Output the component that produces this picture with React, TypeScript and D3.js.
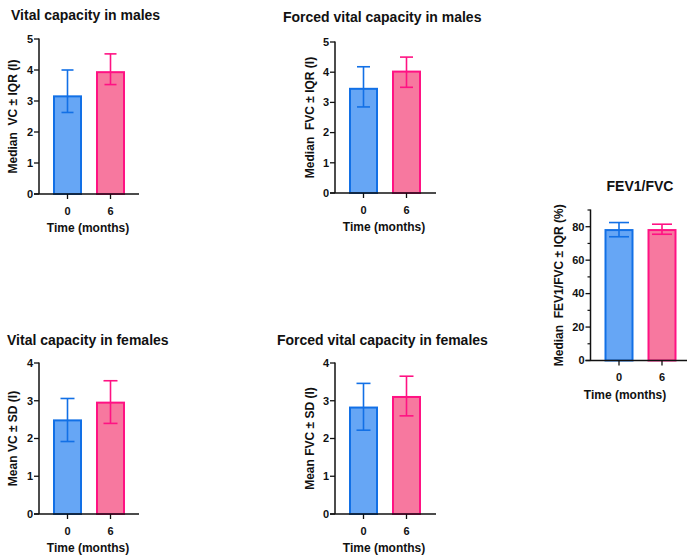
import React from "react";
import * as d3 from "d3";

const timeCategories = ["0", "6"];

const vcMalesValue = [3.15, 3.93];
const vcMalesLow = [2.63, 3.53];
const vcMalesHigh = [4.0, 4.52];

const fvcMalesValue = [3.45, 4.02];
const fvcMalesLow = [2.85, 3.5];
const fvcMalesHigh = [4.18, 4.5];

const vcFemalesValue = [2.48, 2.95];
const vcFemalesLow = [1.92, 2.4];
const vcFemalesHigh = [3.06, 3.53];

const fvcFemalesValue = [2.82, 3.1];
const fvcFemalesLow = [2.22, 2.6];
const fvcFemalesHigh = [3.46, 3.65];

const fevValue = [78, 78];
const fevLow = [74, 75.5];
const fevHigh = [82.5, 81.5];

const ticks0to5 = [0, 1, 2, 3, 4, 5];
const ticks0to4 = [0, 1, 2, 3, 4];
const ticksFev = [0, 20, 40, 60, 80];
const minorTicksFev = [10, 30, 50, 70, 90];

const FILLS = ["#66a6f5", "#f7789f"];
const STROKES = ["#1270e6", "#ff1283"];
const FONT = "'Liberation Sans', Arial, sans-serif";

type PanelProps = {
  title: string;
  titleX: number;
  titleY: number;
  titleAnchor?: string;
  yLabel: string;
  axisX: number;
  axisEnd: number;
  yTop: number;
  yBottom: number;
  yMax: number;
  ticks: number[];
  minorTicks?: number[];
  values: number[];
  low: number[];
  high: number[];
  capW: number;
  yLabelDx: number;
  xLabelX: number;
};

function Panel(p: PanelProps) {
  const y = d3.scaleLinear().domain([0, p.yMax]).range([p.yBottom, p.yTop]);
  const x = d3
    .scalePoint<string>()
    .domain(timeCategories)
    .range([p.axisX + 28.5, p.axisX + 71.5]);
  const barW = 27;
  return (
    <g fontFamily={FONT} fontWeight="bold" fill="#111">
      <text x={p.titleX} y={p.titleY} fontSize={14} textAnchor={p.titleAnchor || "start"}>
        {p.title}
      </text>
      {timeCategories.map((c, i) => (
        <rect
          key={"b" + c}
          x={(x(c) as number) - barW / 2}
          y={y(p.values[i])}
          width={barW}
          height={y(0) - y(p.values[i])}
          fill={FILLS[i]}
          stroke={STROKES[i]}
          strokeWidth={2}
        />
      ))}
      {timeCategories.map((c, i) => {
        const cx = x(c) as number;
        return (
          <g key={"e" + c} stroke={STROKES[i]} strokeWidth={1.6}>
            <line x1={cx} x2={cx} y1={y(p.low[i])} y2={y(p.high[i])} />
            <line x1={cx - p.capW / 2} x2={cx + p.capW / 2} y1={y(p.low[i])} y2={y(p.low[i])} />
            <line x1={cx - p.capW / 2} x2={cx + p.capW / 2} y1={y(p.high[i])} y2={y(p.high[i])} />
          </g>
        );
      })}
      {/* y axis */}
      <line x1={p.axisX} x2={p.axisX} y1={p.yTop - 0.5} y2={p.yBottom} stroke="#111" strokeWidth={1.5} />
      {p.ticks.map((t) => (
        <g key={"t" + t}>
          <line x1={p.axisX - 5} x2={p.axisX} y1={y(t)} y2={y(t)} stroke="#111" strokeWidth={1.3} />
          <text x={p.axisX - 6} y={y(t)} dy="0.35em" fontSize={11} textAnchor="end">
            {t}
          </text>
        </g>
      ))}
      {(p.minorTicks || []).map((t) => (
        <line key={"m" + t} x1={p.axisX - 3} x2={p.axisX} y1={y(t)} y2={y(t)} stroke="#111" strokeWidth={1.2} />
      ))}
      {/* x axis */}
      <line x1={p.axisX - 5} x2={p.axisEnd} y1={p.yBottom} y2={p.yBottom} stroke="#111" strokeWidth={1.5} />
      {timeCategories.map((c) => (
        <g key={"x" + c}>
          <line x1={x(c)} x2={x(c)} y1={p.yBottom} y2={p.yBottom + 5} stroke="#111" strokeWidth={1.3} />
          <text x={x(c)} y={p.yBottom + 20.5} fontSize={11} textAnchor="middle">
            {c}
          </text>
        </g>
      ))}
      <text x={p.xLabelX} y={p.yBottom + 38} fontSize={12} textAnchor="middle">
        Time (months)
      </text>
      <text
        transform={`translate(${p.axisX + p.yLabelDx},${(p.yTop + p.yBottom) / 2}) rotate(-90)`}
        fontSize={12}
        textAnchor="middle"
        dy="0.35em"
        style={{ whiteSpace: "pre" }}
      >
        {p.yLabel}
      </text>
    </g>
  );
}

export default function App() {
  return (
    <svg width={687} height={555} style={{ position: "absolute", left: 0, top: 0, background: "#fff" }}>
      <rect width={687} height={555} fill="#fff" />
      <Panel
        title="Vital capacity in males"
        titleX={11}
        titleY={20}
        yLabel={"Median  VC \u00b1 IQR (l)"}
        axisX={39}
        axisEnd={139}
        yTop={39}
        yBottom={194}
        yMax={5}
        ticks={ticks0to5}
        values={vcMalesValue}
        low={vcMalesLow}
        high={vcMalesHigh}
        capW={12}
        yLabelDx={-26}
        xLabelX={88}
      />
      <Panel
        title="Forced vital capacity in males"
        titleX={283}
        titleY={22}
        yLabel={"Median  FVC \u00b1 IQR (l)"}
        axisX={335}
        axisEnd={436}
        yTop={42}
        yBottom={193}
        yMax={5}
        ticks={ticks0to5}
        values={fvcMalesValue}
        low={fvcMalesLow}
        high={fvcMalesHigh}
        capW={13}
        yLabelDx={-25}
        xLabelX={384}
      />
      <Panel
        title="FEV1/FVC"
        titleX={640}
        titleY={191}
        titleAnchor="middle"
        yLabel={"Median  FEV1/FVC \u00b1 IQR (%)"}
        axisX={590.5}
        axisEnd={687}
        yTop={210}
        yBottom={360.5}
        yMax={90}
        ticks={ticksFev}
        minorTicks={minorTicksFev}
        values={fevValue}
        low={fevLow}
        high={fevHigh}
        capW={20}
        yLabelDx={-32}
        xLabelX={625}
      />
      <Panel
        title="Vital capacity in females"
        titleX={7}
        titleY={345}
        yLabel={"Mean VC \u00b1 SD (l)"}
        axisX={39}
        axisEnd={139}
        yTop={363}
        yBottom={514}
        yMax={4}
        ticks={ticks0to4}
        values={vcFemalesValue}
        low={vcFemalesLow}
        high={vcFemalesHigh}
        capW={14}
        yLabelDx={-26}
        xLabelX={88}
      />
      <Panel
        title="Forced vital capacity in females"
        titleX={277}
        titleY={345}
        yLabel={"Mean FVC \u00b1 SD (l)"}
        axisX={335}
        axisEnd={436}
        yTop={363}
        yBottom={514}
        yMax={4}
        ticks={ticks0to4}
        values={fvcFemalesValue}
        low={fvcFemalesLow}
        high={fvcFemalesHigh}
        capW={14}
        yLabelDx={-25}
        xLabelX={384}
      />
    </svg>
  );
}
